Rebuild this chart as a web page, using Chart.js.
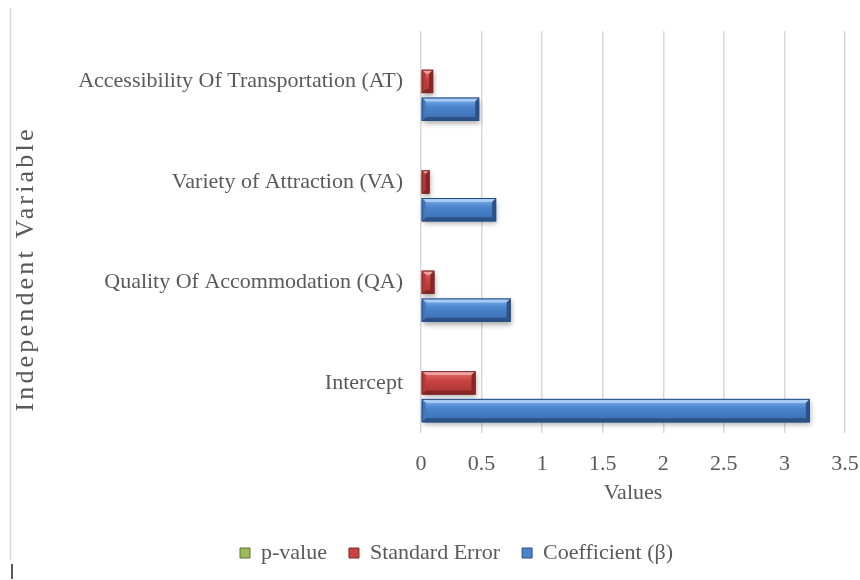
<!DOCTYPE html>
<html>
<head>
<meta charset="utf-8">
<script src="https://cdn.jsdelivr.net/npm/chart.js@4.4.1/dist/chart.umd.min.js"></script>
<style>
  html, body { margin: 0; padding: 0; background: #ffffff; }
  #wrap { width: 860px; height: 580px; }
</style>
</head>
<body>
<div id="wrap"><canvas id="chart" width="860" height="580"></canvas></div>
<script>
// Regression results per independent variable
const categories = [
  'Accessibility Of Transportation (AT)',
  'Variety of Attraction (VA)',
  'Quality Of Accommodation (QA)',
  'Intercept'
];
const pValue        = [0, 0, 0, 0];
const standardError = [0.10, 0.07, 0.11, 0.45];
const coefficient   = [0.48, 0.62, 0.74, 3.21];

const seriesNames = ['p-value', 'Standard Error', 'Coefficient (\u03B2)'];
const xTickLabels = ['0', '0.5', '1', '1.5', '2', '2.5', '3', '3.5'];
const xMin = 0, xMax = 3.5, xStep = 0.5;
const xTitle = 'Values';
const yTitle = 'Independent Variable';

const SERIF = '"Liberation Serif", "Times New Roman", serif';
const TEXT = '#595959';
const FONT_SIZE = 22;

// Bevelled fill palettes
const palettes = [
  { mid: '#9BBB59', light: '#C6DD8E', dark: '#7A9A3C', top: '#D4E8A6', bottom: '#5F7A2C', side: '#8CAD4C', border: '#5E7530' },
  { mid: '#C94341', light: '#E47A78', dark: '#A93432', top: '#EFA2A0', bottom: '#862624', side: '#B53A38', border: '#7E2A28' },
  { mid: '#4A84CC', light: '#84B5EE', dark: '#3B6DB0', top: '#A6CBF5', bottom: '#2C5288', side: '#4277BD', border: '#2A4E80' }
];

function poly(ctx, pts, color) {
  ctx.beginPath();
  ctx.moveTo(pts[0][0], pts[0][1]);
  for (let i = 1; i < pts.length; i++) ctx.lineTo(pts[i][0], pts[i][1]);
  ctx.closePath();
  ctx.fillStyle = color;
  ctx.fill();
}

function drawBevelBar(ctx, l, t, r, b, pal) {
  const w = r - l, h = b - t;
  if (w < 0.5) return;
  const bev = Math.min(4, w / 2, h / 3);
  ctx.save();
  ctx.shadowColor = 'rgba(0,0,0,0.32)';
  ctx.shadowBlur = 5;
  ctx.shadowOffsetX = 1;
  ctx.shadowOffsetY = 3;
  ctx.fillStyle = pal.mid;
  ctx.fillRect(l, t, w, h);
  ctx.restore();

  const g = ctx.createLinearGradient(0, t, 0, b);
  g.addColorStop(0, pal.light);
  g.addColorStop(0.4, pal.mid);
  g.addColorStop(1, pal.dark);
  ctx.fillStyle = g;
  ctx.fillRect(l, t, w, h);

  poly(ctx, [[l, t], [r, t], [r - bev, t + bev], [l + bev, t + bev]], pal.top);
  poly(ctx, [[l, b], [r, b], [r - bev, b - bev], [l + bev, b - bev]], pal.bottom);
  poly(ctx, [[l, t], [l + bev, t + bev], [l + bev, b - bev], [l, b]], pal.side);
  poly(ctx, [[r, t], [r - bev, t + bev], [r - bev, b - bev], [r, b]], pal.bottom);

  ctx.strokeStyle = pal.border;
  ctx.lineWidth = 1;
  ctx.strokeRect(l + 0.5, t + 0.5, w - 1, h - 1);
}

// Re-paints each bar element with a bevelled, shaded look
const bevelBars = {
  id: 'bevelBars',
  afterDatasetsDraw(chart) {
    const ctx = chart.ctx;
    ctx.save();
    chart.data.datasets.forEach((ds, di) => {
      const meta = chart.getDatasetMeta(di);
      if (meta.hidden) return;
      meta.data.forEach(el => {
        const p = el.getProps(['x', 'y', 'base', 'height'], true);
        const l = Math.min(p.base, p.x), r = Math.max(p.base, p.x);
        const t = p.y - p.height / 2, b = p.y + p.height / 2;
        drawBevelBar(ctx, l, t, r, b, palettes[di]);
      });
    });
    ctx.restore();
  }
};

// Outer frame line on the left edge
const frame = {
  id: 'frame',
  beforeDraw(chart) {
    const ctx = chart.ctx;
    ctx.save();
    ctx.strokeStyle = '#d9d9d9';
    ctx.lineWidth = 1.5;
    ctx.beginPath();
    ctx.moveTo(10.5, 8);
    ctx.lineTo(10.5, 560);
    ctx.stroke();
    ctx.strokeStyle = '#222';
    ctx.beginPath();
    ctx.moveTo(12, 564);
    ctx.lineTo(12, 579);
    ctx.stroke();
    ctx.restore();
  }
};

// Vertical axis title along the left side
const yAxisTitle = {
  id: 'yAxisTitle',
  afterDraw(chart) {
    const ctx = chart.ctx;
    ctx.save();
    ctx.font = '26px ' + SERIF;
    ctx.fillStyle = TEXT;
    const natural = ctx.measureText(yTitle).width;
    const span = 282;
    ctx.letterSpacing = Math.max(0, (span - natural) / (yTitle.length - 1)).toFixed(2) + 'px';
    ctx.translate(26, 269);
    ctx.rotate(-Math.PI / 2);
    ctx.textAlign = 'center';
    ctx.textBaseline = 'middle';
    ctx.fillText(yTitle, 0, 0);
    ctx.restore();
  }
};

// Centres the legend row under the plot
const legendShift = {
  id: 'legendShift',
  afterLayout(chart) {
    const lg = chart.legend;
    if (lg) { lg.left += 28; lg.right += 28; }
  }
};

const datasets = [pValue, standardError, coefficient].map((vals, i) => ({
  label: seriesNames[i],
  data: vals,
  backgroundColor: palettes[i].mid,
  borderColor: palettes[i].border,
  borderWidth: 1,
  categoryPercentage: 0.83,
  barPercentage: 0.84
}));

new Chart(document.getElementById('chart'), {
  type: 'bar',
  data: { labels: categories, datasets },
  plugins: [frame, bevelBars, yAxisTitle, legendShift],
  options: {
    indexAxis: 'y',
    responsive: false,
    animation: false,
    devicePixelRatio: 1,
    layout: { padding: { left: 12, right: 15, top: 30, bottom: 6 } },
    scales: {
      x: {
        min: xMin, max: xMax,
        ticks: {
          stepSize: xStep,
          color: TEXT,
          padding: 18,
          font: { family: SERIF, size: FONT_SIZE },
          callback: (v, i) => xTickLabels[i]
        },
        grid: { color: '#d9d9d9', lineWidth: 1.5, drawTicks: false },
        border: { display: false },
        title: {
          display: true, text: xTitle, color: TEXT,
          font: { family: SERIF, size: FONT_SIZE },
          padding: { top: 0, bottom: 14 }
        },
        afterFit(scale) { scale.height = 87; scale.paddingRight = 0; }
      },
      y: {
        ticks: {
          color: TEXT,
          padding: 18,
          font: { family: SERIF, size: FONT_SIZE }
        },
        grid: { display: false, drawTicks: false },
        border: { display: false },
        title: { display: false },
        afterFit(scale) { scale.width = 409; }
      }
    },
    plugins: {
      legend: {
        position: 'bottom',
        labels: {
          color: TEXT,
          font: { family: SERIF, size: FONT_SIZE },
          boxWidth: 10,
          boxHeight: 10,
          padding: 22
        }
      },
      tooltip: { enabled: false }
    }
  }
});
</script>
</body>
</html>
